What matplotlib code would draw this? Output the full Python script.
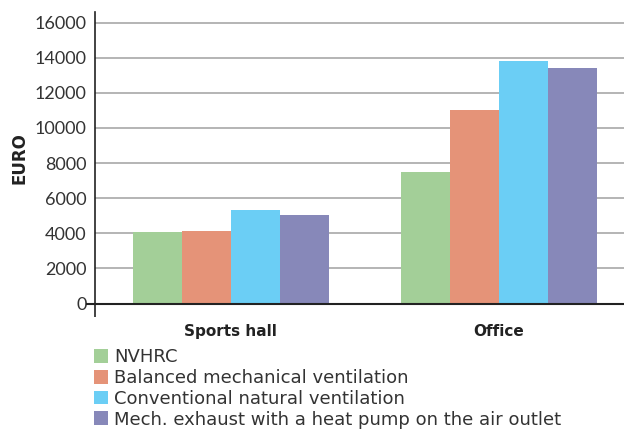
import matplotlib
matplotlib.use("Agg")
import matplotlib.pyplot as plt
import numpy as np

categories = ["Sports hall", "Office"]
series_names = ["NVHRC", "Balanced mechanical ventilation",
                "Conventional natural ventilation",
                "Mech. exhaust with a heat pump on the air outlet"]
nvhrc = [4060, 7480]
balanced = [4120, 11010]
conventional = [5310, 13800]
mech_exhaust = [5030, 13400]
yticks = [0, 2000, 4000, 6000, 8000, 10000, 12000, 14000, 16000]
colors = ["#a3cf98", "#e59378", "#6bcef5", "#8788b9"]

plt.rcParams['font.family'] = ['Lato', 'DejaVu Sans']

fig = plt.figure(figsize=(6.24, 4.34), dpi=100)
W, H = 624, 434
left, right, bottom, top = 95, 624, 303.5, 12
ax = fig.add_axes([left / W, 1 - bottom / H, (right - left) / W, (bottom - top) / H])

x = np.arange(len(categories))
bw = 0.183
values = [nvhrc, balanced, conventional, mech_exhaust]
for i, (vals, c, name) in enumerate(zip(values, colors, series_names)):
    ax.bar(x + (i - 1.5) * bw, vals, width=bw, color=c, label=name, zorder=3)

ax.set_xlim(-0.507, 1.466)
ax.set_ylim(0, 16600)
ax.set_yticks(yticks)
ax.set_yticklabels([str(v) for v in yticks], fontsize=13, color="#333333")
ax.yaxis.grid(True, color="#a8a8a8", linewidth=1.2, zorder=0)
ax.set_axisbelow(True)
ax.tick_params(axis='y', length=0, pad=6)
ax.set_xticks(x)
ax.set_xticklabels(categories, fontsize=11, fontweight='bold', color="#222222",
                   family=['DejaVu Sans'])
ax.tick_params(axis='x', length=0, pad=15)
ax.set_xticks([-0.507], minor=True)
ax.tick_params(axis='x', which='minor', length=9, width=1.2, color="#222222", direction='out')

for s in ["top", "right"]:
    ax.spines[s].set_visible(False)
ax.spines["left"].set_color("#222222")
ax.spines["left"].set_linewidth(1.2)
ax.spines["bottom"].set_color("#222222")
ax.spines["bottom"].set_linewidth(1.5)
ax.spines["bottom"].set_zorder(4)
ax.plot([-0.507 - 8 / 268, -0.507], [0, 0], color="#222222", lw=1.5, clip_on=False, zorder=5)

fig.text(19 / W, 1 - 158 / H, "EURO", rotation=90, ha="center", va="center",
         fontsize=12, fontweight="bold", color="#222222", family=['DejaVu Sans'])

leg = fig.legend(loc="upper left", bbox_to_anchor=(94 / W, 1 - 348 / H), frameon=False,
                 prop={'family': ['DejaVu Sans'], 'size': 13},
                 handlelength=0.8, handleheight=0.8, handletextpad=0.3,
                 labelspacing=0.16, borderaxespad=0, borderpad=0, labelcolor="#333333")

fig.savefig("out.png", dpi=100)
